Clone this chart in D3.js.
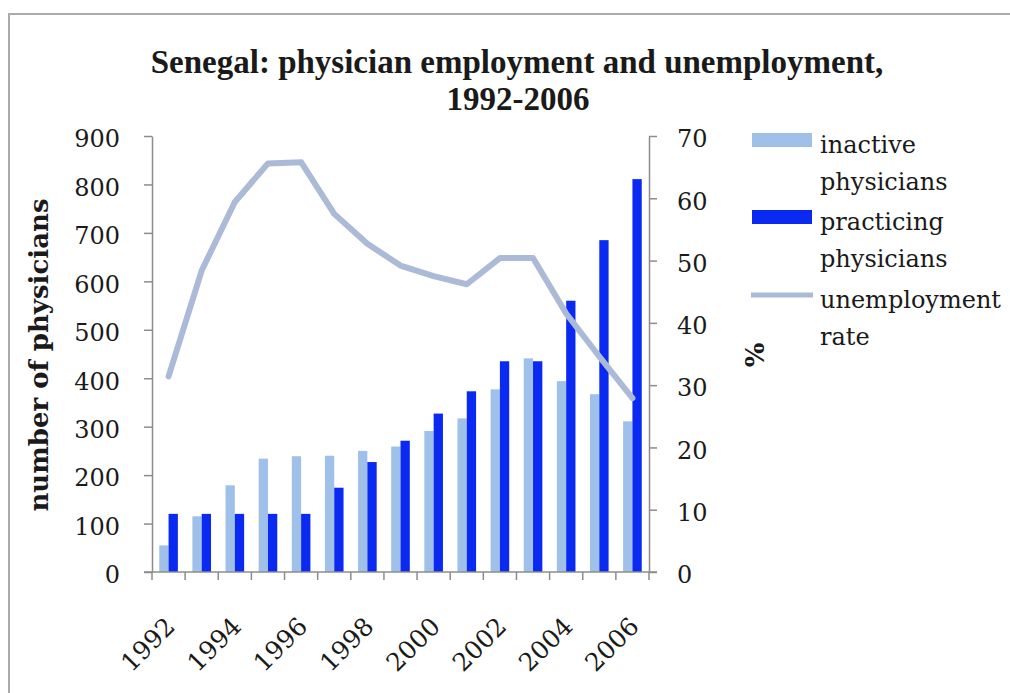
<!DOCTYPE html>
<html>
<head>
<meta charset="utf-8">
<script src="https://cdn.jsdelivr.net/npm/d3@7"></script>
<style>
  html, body { margin: 0; padding: 0; background: #fff; }
  svg { display: block; }
  text { font-family: "DejaVu Serif", serif; fill: #1a1a1a; }
</style>
</head>
<body>
<svg id="chart" width="1010" height="693"></svg>
<script>
// Senegal physicians, 1992-2006
const years = [1992, 1993, 1994, 1995, 1996, 1997, 1998, 1999, 2000, 2001, 2002, 2003, 2004, 2005, 2006];
const inactive = [55, 115, 179, 234, 239, 240, 250, 259, 291, 317, 377, 441, 394, 367, 311];
const practicing = [120, 120, 120, 120, 120, 174, 227, 271, 327, 373, 435, 435, 560, 685, 811];
const unemploymentRate = [31.4, 48.4, 59.4, 65.6, 65.8, 57.5, 52.7, 49.2, 47.5, 46.2, 50.4, 50.4, 41.5, 34.6, 27.9];
const leftTicks = [0, 100, 200, 300, 400, 500, 600, 700, 800, 900];
const rightTicks = [0, 10, 20, 30, 40, 50, 60, 70];
const yearLabels = [1992, 1994, 1996, 1998, 2000, 2002, 2004, 2006];
const seriesNames = ["inactive physicians", "practicing physicians"];

const colors = { inactive: "#9fc0e8", practicing: "#0a2af2", rate: "#abbad6", axis: "#8c8c8c" };

const svg = d3.select("#chart");

// outer frame
svg.append("rect").attr("x", 9).attr("y", 14).attr("width", 1100).attr("height", 800)
  .attr("fill", "none").attr("stroke", "#ababab").attr("stroke-width", 2);

const plot = { left: 152, right: 649, top: 136, bottom: 572 };

const x = d3.scaleBand().domain(years).range([plot.left, plot.right]).padding(0);
const xs = d3.scaleBand().domain(seriesNames).range([0, x.bandwidth()]).paddingInner(0).paddingOuter(0.78);
const yL = d3.scaleLinear().domain([0, 900]).range([plot.bottom, plot.top]);
const yR = d3.scaleLinear().domain([0, 70]).range([plot.bottom, plot.top]);

// bars
const groups = svg.append("g").selectAll("g").data(years).join("g")
  .attr("transform", d => `translate(${x(d)},0)`);
groups.append("rect")
  .attr("x", xs(seriesNames[0])).attr("width", xs.bandwidth())
  .attr("y", (d, i) => yL(inactive[i])).attr("height", (d, i) => yL(0) - yL(inactive[i]))
  .attr("fill", colors.inactive);
groups.append("rect")
  .attr("x", xs(seriesNames[1])).attr("width", xs.bandwidth())
  .attr("y", (d, i) => yL(practicing[i])).attr("height", (d, i) => yL(0) - yL(practicing[i]))
  .attr("fill", colors.practicing);

// unemployment line
const line = d3.line()
  .x((d, i) => x(years[i]) + x.bandwidth() / 2)
  .y(d => yR(d));
svg.append("path").datum(unemploymentRate)
  .attr("d", line).attr("fill", "none")
  .attr("stroke", colors.rate).attr("stroke-width", 6)
  .attr("stroke-linejoin", "round").attr("stroke-linecap", "round");

// left axis
const gL = svg.append("g").attr("transform", `translate(${plot.left},0)`)
  .call(d3.axisLeft(yL).tickValues(leftTicks).tickSize(8).tickSizeOuter(0).tickPadding(24));
// right axis
const gR = svg.append("g").attr("transform", `translate(${plot.right},0)`)
  .call(d3.axisRight(yR).tickValues(rightTicks).tickSize(8).tickSizeOuter(0).tickPadding(20));
[gL, gR].forEach(g => {
  g.select(".domain").attr("stroke", colors.axis).attr("stroke-width", 1.5);
  g.selectAll(".tick line").attr("stroke", colors.axis).attr("stroke-width", 1.5);
  g.selectAll(".tick text").style("font-family", "'DejaVu Serif', serif").style("font-size", "24px").attr("fill", "#1a1a1a");
});
gL.selectAll(".tick text").attr("dy", "0.45em");
gR.selectAll(".tick text").attr("dy", "0.45em");

// category axis along the bottom
const gX = svg.append("g");
gX.append("line").attr("x1", plot.left - 8).attr("x2", plot.right + 8)
  .attr("y1", yL(0)).attr("y2", yL(0)).attr("stroke", colors.axis).attr("stroke-width", 1.5);
const bounds = years.map(d => x(d)).concat([x(years[years.length - 1]) + x.bandwidth()]);
gX.selectAll("line.tk").data(bounds).join("line").attr("class", "tk")
  .attr("x1", d => d).attr("x2", d => d).attr("y1", yL(0)).attr("y2", yL(0) + 8)
  .attr("stroke", colors.axis).attr("stroke-width", 1.5);
gX.selectAll("text").data(yearLabels).join("text")
  .attr("transform", d => `translate(${x(d) + x.bandwidth() / 2 + 8},${yL(0) + 56}) rotate(-45)`)
  .attr("text-anchor", "end").style("font-size", "25px").text(d => d);

// titles
const titleStyle = t => t.attr("text-anchor", "middle")
  .style("font-family", "'Liberation Serif', serif")
  .style("font-weight", "bold").style("font-size", "33px");
svg.append("text").call(titleStyle).attr("x", 517).attr("y", 73)
  .text("Senegal: physician employment and unemployment,");
svg.append("text").call(titleStyle).attr("x", 518).attr("y", 110)
  .text("1992-2006");

svg.append("text").attr("transform", "translate(48,355) rotate(-90)")
  .attr("text-anchor", "middle").style("font-weight", "bold").style("font-size", "26px")
  .text("number of physicians");
svg.append("text").attr("transform", "translate(764,355) rotate(-90)")
  .attr("text-anchor", "middle").style("font-weight", "bold").style("font-size", "26px")
  .text("%");

// legend
const legend = svg.append("g");
const legendItems = [
  { key: "inactive", lines: ["inactive", "physicians"], y: 140 },
  { key: "practicing", lines: ["practicing", "physicians"], y: 217 },
  { key: "rate", lines: ["unemployment", "rate"], y: 295 }
];
legendItems.forEach(item => {
  if (item.key === "rate") {
    legend.append("line").attr("x1", 751).attr("x2", 813).attr("y1", item.y).attr("y2", item.y)
      .attr("stroke", colors.rate).attr("stroke-width", 5);
  } else {
    legend.append("rect").attr("x", 752).attr("y", item.y - 7).attr("width", 60).attr("height", 14)
      .attr("fill", colors[item.key]);
  }
  const t = legend.append("text").style("font-size", "24px");
  item.lines.forEach((s, j) => {
    t.append("tspan").attr("x", 820).attr("y", item.y + 13 + j * 37).text(s);
  });
});
</script>
</body>
</html>
